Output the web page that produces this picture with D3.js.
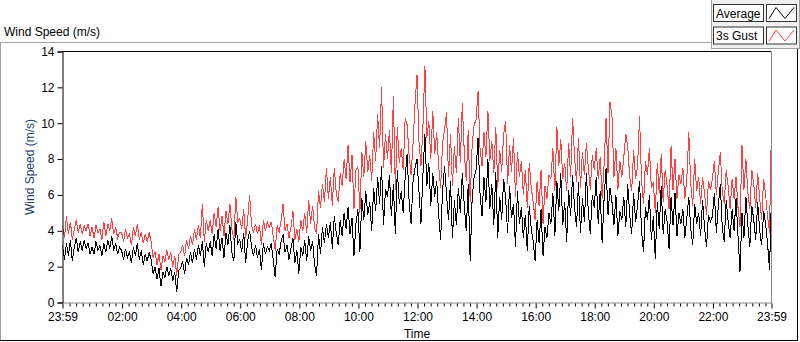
<!DOCTYPE html>
<html>
<head>
<meta charset="utf-8">
<script src="https://cdn.jsdelivr.net/npm/d3@7"></script>
<style>
body { margin: 0; background: #fff; }
svg text { font-family: "Liberation Sans", Arial, sans-serif; font-size: 11px; }
</style>
</head>
<body>
<div class="chart"></div>
<script>
// one reading every 4 minutes, 23:59 -> 23:59 (15 per hour, plus the last one)
const stepMinutes = 4;

const averageSpeed = [
    3.2, 2.4, 3.3, 2.6, 3.5, 2.3, 3.1, 3.6, 2.8, 3.4, 2.9, 3.5, 3.0, 3.3, 2.7,
    3.1, 2.7, 3.4, 2.9, 3.2, 2.6, 3.3, 2.8, 3.5, 3.0, 3.7, 2.9, 3.3, 2.7, 3.1,
    2.9, 2.4, 3.0, 2.5, 2.8, 2.2, 3.1, 2.6, 3.3, 2.4, 2.9, 2.1, 2.7, 2.3, 2.8,
    2.4, 1.6, 2.0, 1.3, 1.9, 0.9, 1.7, 1.4, 2.0, 1.5, 1.9, 1.2, 1.7, 0.6, 1.8,
    1.9, 2.3, 1.6, 2.5, 2.1, 2.8, 2.2, 3.0, 2.4, 3.2, 2.6, 3.4, 2.0, 3.3, 2.8,
    3.4, 2.6, 3.8, 3.0, 4.1, 2.9, 3.6, 2.5, 3.9, 3.2, 4.3, 2.8, 2.3, 4.5, 3.3,
    3.5, 2.8, 3.9, 2.2, 3.4, 4.0, 3.1, 2.6, 3.2, 2.5, 3.0, 1.8, 3.3, 2.7, 3.1,
    2.9, 3.3, 2.4, 1.4, 3.0, 2.7, 3.4, 3.8, 2.8, 3.2, 2.4, 3.0, 3.6, 2.2, 2.9,
    1.6, 3.1, 2.6, 3.5, 2.3, 3.7, 2.9, 3.4, 2.1, 1.5, 3.8, 2.7, 4.2, 3.3, 4.4,
    3.6, 4.5, 3.0, 4.8, 3.9, 3.2, 4.6, 3.7, 5.0, 4.1, 5.3, 3.8, 4.7, 2.6, 4.4,
    5.2, 2.8, 5.8, 4.6, 6.2, 4.9, 5.6, 4.0, 6.4, 5.1, 7.0, 5.5, 7.6, 4.3, 6.3,
    5.9, 7.1, 4.8, 6.6, 3.8, 7.4, 5.5, 6.2, 5.0, 7.0, 8.3, 5.6, 4.4, 6.8, 7.5,
    8.0, 6.2, 4.4, 7.1, 9.4, 6.5, 7.8, 5.4, 7.2, 5.9, 6.8, 4.9, 3.5, 6.3, 7.6,
    6.0, 4.6, 6.8, 3.6, 5.7, 4.3, 6.4, 5.0, 7.2, 5.4, 4.0, 6.6, 2.3, 5.8, 7.0,
    7.4, 9.2, 6.1, 4.8, 7.0, 5.6, 8.0, 5.2, 6.6, 4.3, 7.3, 3.6, 5.9, 4.6, 6.9,
    5.8, 3.9, 6.5, 4.7, 5.5, 3.1, 6.2, 4.4, 5.3, 3.6, 4.9, 2.9, 5.4, 4.1, 3.4,
    2.3, 4.6, 3.3, 5.2, 2.6, 4.2, 3.6, 5.0, 4.4, 6.1, 3.7, 6.8, 5.1, 7.2, 4.3,
    5.6, 3.4, 6.3, 4.8, 7.1, 5.3, 4.2, 6.7, 3.9, 5.8, 4.5, 7.2, 5.0, 3.8, 6.0,
    5.3, 7.0, 4.4, 6.2, 3.3, 5.8, 7.5, 4.9, 6.4, 5.6, 4.3, 6.0, 3.7, 5.1, 4.6,
    5.9, 4.2, 6.6, 4.9, 3.8, 6.1, 4.5, 5.4, 6.8, 4.0, 2.8, 5.3, 4.6, 6.0, 3.5,
    4.8, 2.4, 5.6, 4.1, 6.5, 3.8, 5.2, 4.5, 3.0, 5.9, 4.3, 6.1, 3.7, 5.0, 4.4,
    5.2, 3.6, 4.7, 5.9, 4.1, 3.2, 5.5, 4.4, 5.0, 3.7, 5.7, 4.2, 3.1, 4.9, 4.5,
    4.8, 6.1, 3.9, 5.4, 6.6, 4.2, 3.4, 5.7, 4.5, 3.6, 5.2, 4.0, 5.8, 3.7, 1.7,
    5.0, 3.6, 5.9, 4.3, 3.1, 5.4, 4.6, 3.5, 5.6, 4.0, 3.2, 5.1, 4.4, 3.3, 1.8,
    6.0
];

const gustSpeed = [
    4.3, 3.6, 4.8, 3.8, 4.5, 3.5, 4.1, 4.6, 3.9, 4.4, 3.8, 4.3, 4.0, 4.4, 3.7,
    4.2, 3.6, 4.3, 3.9, 4.1, 3.5, 4.5, 3.7, 4.4, 4.0, 4.7, 3.8, 4.2, 3.6, 3.9,
    3.9, 3.4, 4.1, 3.6, 3.8, 3.2, 4.2, 3.7, 4.4, 3.5, 3.9, 3.3, 3.8, 3.4, 3.9,
    3.4, 2.5, 2.8, 2.1, 2.7, 1.8, 2.6, 2.3, 2.9, 2.4, 2.8, 2.0, 2.6, 1.5, 2.7,
    2.8, 3.2, 2.6, 3.5, 3.0, 3.7, 3.2, 4.1, 3.5, 4.3, 3.6, 5.5, 3.4, 4.6, 4.0,
    4.6, 3.8, 5.0, 4.2, 5.3, 4.0, 4.8, 3.7, 5.1, 4.4, 5.5, 4.1, 3.5, 5.9, 4.5,
    4.7, 4.1, 5.2, 3.6, 4.6, 6.0, 4.3, 3.9, 4.4, 3.8, 4.3, 3.2, 4.6, 4.0, 4.5,
    4.2, 4.5, 3.7, 2.9, 4.3, 3.9, 4.6, 5.5, 4.0, 4.4, 3.6, 4.2, 5.1, 3.5, 4.1,
    3.4, 4.6, 4.0, 5.0, 3.9, 5.7, 4.4, 5.4, 4.2, 3.8, 6.2, 5.3, 6.6, 5.6, 7.5,
    5.8, 7.0, 5.4, 7.5, 6.1, 5.6, 7.2, 6.5, 8.0, 6.9, 8.8, 6.7, 8.2, 5.2, 7.4,
    7.6, 5.0, 8.4, 7.0, 9.0, 7.3, 8.2, 6.8, 9.5, 7.9, 10.5, 8.6, 12.0, 7.5, 9.4,
    8.0, 9.6, 7.2, 11.5, 6.3, 9.8, 7.8, 8.6, 7.4, 10.3, 9.9, 8.2, 7.1, 8.9, 11.1,
    12.7, 9.0, 7.6, 9.8, 13.2, 9.2, 10.1, 8.0, 10.7, 8.3, 9.5, 7.6, 6.4, 8.9, 9.7,
    10.6, 7.0, 9.4, 6.5, 8.7, 7.2, 10.3, 7.8, 11.1, 8.4, 6.8, 9.6, 5.6, 8.8, 9.9,
    10.2, 11.8, 8.6, 7.6, 9.5, 8.1, 10.7, 7.9, 9.0, 7.2, 9.8, 6.4, 8.5, 7.3, 9.4,
    10.1, 6.6, 8.8, 7.3, 9.2, 5.9, 8.4, 7.0, 7.9, 6.0, 7.4, 5.3, 7.8, 6.4, 5.6,
    4.6, 6.8, 5.4, 7.4, 4.4, 6.5, 5.8, 7.1, 6.9, 8.6, 6.2, 9.8, 7.6, 9.1, 6.9,
    7.8, 6.2, 8.9, 7.0, 10.3, 8.1, 6.7, 9.2, 6.4, 8.4, 7.1, 8.9, 7.5, 6.3, 8.2,
    7.4, 8.6, 6.9, 8.1, 5.8, 7.7, 10.3, 7.2, 11.2, 10.4, 7.0, 8.6, 6.3, 7.9, 7.0,
    8.1, 9.4, 8.7, 7.0, 6.2, 8.5, 6.9, 7.6, 10.4, 6.8, 5.5, 7.9, 7.1, 8.6, 6.4,
    6.7, 5.0, 7.8, 6.1, 8.3, 5.6, 7.4, 6.5, 5.2, 8.7, 6.3, 8.0, 5.8, 7.1, 6.6,
    7.5, 5.8, 6.9, 9.5, 6.6, 5.4, 8.0, 6.2, 7.0, 5.5, 7.0, 6.1, 4.9, 6.8, 6.3,
    6.9, 7.9, 6.0, 7.3, 8.4, 6.2, 5.5, 7.4, 6.5, 5.2, 6.9, 5.8, 7.0, 5.3, 4.2,
    8.8, 6.3, 8.0, 6.1, 5.2, 7.4, 6.6, 5.3, 7.2, 5.8, 4.6, 6.9, 6.0, 4.8, 3.9,
    10.0
];

const seriesNames = ["Average", "3s Gust"];
const seriesColors = ["#000000", "#ff4040"];
const yTickValues = [0, 2, 4, 6, 8, 10, 12, 14];
const majorHours = [2, 4, 6, 8, 10, 12, 14, 16, 18, 20, 22];

const width = 800;
const height = 342;

const svg = d3.select("div.chart")
    .append("svg")
    .attr("width", width)
    .attr("height", height);

const t0 = new Date(2020, 0, 1, 23, 59);
const t1 = new Date(2020, 0, 2, 23, 59);

const plotLeft = 62.5, plotRight = 771.5, plotTop = 51.5, plotBottom = 302.5;

const x = d3.scaleTime().domain([t0, t1]).range([plotLeft, plotRight]);
const y = d3.scaleLinear().domain([0, 14]).range([plotBottom, plotTop]);

// outer frame (sunken look: grey top/left, black bottom/right)
svg.append("line").attr("x1", 0).attr("x2", 712).attr("y1", 42.5).attr("y2", 42.5).attr("stroke", "#a0a0a0");
svg.append("line").attr("x1", 0.5).attr("x2", 0.5).attr("y1", 42).attr("y2", 341).attr("stroke", "#a0a0a0");
svg.append("line").attr("x1", 0).attr("x2", 798).attr("y1", 340.5).attr("y2", 340.5).attr("stroke", "#000");
svg.append("line").attr("x1", 797.5).attr("x2", 797.5).attr("y1", 48).attr("y2", 341).attr("stroke", "#000");

svg.append("text").attr("x", 4).attr("y", 36).style("font-size", "12px").text("Wind Speed (m/s)");

// legend panel
const legend = svg.append("g");
legend.append("rect").attr("x", 711.5).attr("y", -1).attr("width", 88).attr("height", 49.5)
    .attr("fill", "#f0f0f0").attr("stroke", "#a0a0a0");
seriesNames.forEach(function(name, i) {
    let top = 4.5 + i * 22.5;
    legend.append("rect").attr("x", 713.5).attr("y", top).attr("width", 50).attr("height", 17)
        .attr("fill", "#fff").attr("stroke", "#333");
    legend.append("text").attr("x", 716).attr("y", top + 13).style("font-size", "12px").text(name);
    legend.append("rect").attr("x", 766.5).attr("y", top).attr("width", 30).attr("height", 17)
        .attr("fill", "#fff").attr("stroke", "#333");
    legend.append("polyline")
        .attr("points", [[769, top + 14], [776, top + 3], [785, top + 14], [794, top + 3]].join(" "))
        .attr("fill", "none").attr("stroke", seriesColors[i]);
});

// data lines, drawn aliased like the original instrument chart
svg.append("clipPath").attr("id", "plot-clip")
    .append("rect").attr("x", plotLeft).attr("y", plotTop).attr("width", plotRight - plotLeft).attr("height", plotBottom - plotTop);

const line = d3.line()
    .x(function(d, i) { return x(new Date(+t0 + i * stepMinutes * 60000)); })
    .y(function(d) { return y(d); });

const lines = svg.append("g").attr("clip-path", "url(#plot-clip)");
lines.append("path").datum(gustSpeed).attr("d", line)
    .attr("fill", "none").attr("stroke", seriesColors[1]).attr("stroke-width", 1)
    .attr("shape-rendering", "crispEdges");
lines.append("path").datum(averageSpeed).attr("d", line)
    .attr("fill", "none").attr("stroke", seriesColors[0]).attr("stroke-width", 1)
    .attr("shape-rendering", "crispEdges");

// plot border
svg.append("line").attr("x1", plotLeft).attr("x2", plotRight).attr("y1", plotTop).attr("y2", plotTop).attr("stroke", "#000");
svg.append("line").attr("x1", plotRight).attr("x2", plotRight).attr("y1", plotTop).attr("y2", plotBottom + 1).attr("stroke", "#8a8a8a");
svg.append("line").attr("x1", plotLeft).attr("x2", plotRight).attr("y1", plotBottom + 0.5).attr("y2", plotBottom + 0.5).attr("stroke", "#8a8a8a");

// y axis
const yAxis = svg.append("g").attr("transform", "translate(" + plotLeft + ",0)")
    .call(d3.axisLeft(y).tickValues(yTickValues).tickSize(5).tickPadding(3));
yAxis.select(".domain").attr("stroke", "#000");
yAxis.selectAll("text").style("font-size", "12px").attr("fill", "#000");

svg.append("text")
    .attr("transform", "translate(34,167) rotate(-90)")
    .attr("text-anchor", "middle")
    .attr("fill", "#1f3b6e")
    .style("font-size", "12px")
    .text("Wind Speed (m/s)");

// x axis: majors every 2 h, minors every 2h/9
const majorTicks = [t0].concat(majorHours.map(function(h) { return new Date(2020, 0, 2, h, 0); }), [t1]);
const minorTicks = d3.range(0, 108)
    .filter(function(k) { return k % 9 !== 0; })
    .map(function(k) { return new Date(+new Date(2020, 0, 2, 0, 0) + k * 800000); });

const fmt = d3.timeFormat("%H:%M");
const xMinor = svg.append("g").attr("transform", "translate(0," + (plotBottom + 1) + ")")
    .call(d3.axisBottom(x).tickValues(minorTicks).tickSize(3).tickFormat(""));
xMinor.select(".domain").remove();

const xAxis = svg.append("g").attr("transform", "translate(0," + (plotBottom + 1) + ")")
    .call(d3.axisBottom(x).tickValues(majorTicks).tickSize(5).tickPadding(4).tickFormat(fmt));
xAxis.select(".domain").remove();
xAxis.selectAll("text").style("font-size", "12px").attr("fill", "#000");

svg.append("text").attr("x", 417).attr("y", 338).attr("text-anchor", "middle")
    .style("font-size", "12px").text("Time");
</script>
</body>
</html>
